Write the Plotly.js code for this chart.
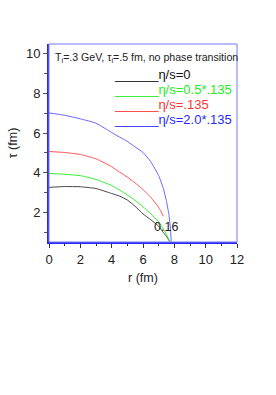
<!DOCTYPE html>
<html>
<head>
<meta charset="utf-8">
<script src="https://cdn.plot.ly/plotly-3.0.1.min.js"></script>
<style>html,body{margin:0;padding:0;background:#fff;}#chart{width:276px;height:395px;}</style>
</head>
<body>
<div id="chart"></div>
<script>
// Series data (r in fm, tau in fm)
const seriesNames = ["η/s=0", "η/s=0.5*.135", "η/s=.135", "η/s=2.0*.135"];
const rBlack   = [0, 1, 2, 3, 4, 4.5, 5, 5.5, 6, 6.5, 7, 7.3, 7.5, 7.72];
const tauBlack = [3.26, 3.30, 3.29, 3.20, 2.95, 2.82, 2.62, 2.30, 1.92, 1.62, 1.30, 0.98, 0.78, 0.5];
const rGreen   = [0, 1, 2, 3, 4, 4.5, 5, 5.5, 6, 6.5, 7, 7.3, 7.5, 7.72];
const tauGreen = [3.96, 3.92, 3.85, 3.66, 3.35, 3.12, 2.88, 2.60, 2.28, 1.92, 1.52, 1.15, 0.88, 0.5];
const rRed     = [0, 1, 2, 3, 4, 4.5, 5, 5.5, 6, 6.5, 7, 7.3];
const tauRed   = [5.07, 5.02, 4.92, 4.70, 4.30, 4.03, 3.78, 3.48, 3.15, 2.75, 2.25, 1.80];
const rBlue    = [0, 1, 2, 3, 4, 4.5, 5, 5.5, 6, 6.5, 7, 7.3, 7.5, 7.65, 7.75, 7.8];
const tauBlue  = [7.02, 6.90, 6.72, 6.50, 6.03, 5.80, 5.58, 5.30, 5.02, 4.55, 3.85, 3.20, 2.55, 1.90, 1.20, 0.5];
const lineColors = ["#444444", "#33ee33", "#ff5555", "#6666ff"];
const textColors = ["#111111", "#22ee22", "#ff3333", "#2a2aff"];
const xTicks = [0, 2, 4, 6, 8, 10, 12];
const yTicks = [2, 4, 6, 8, 10];
const infoText = "T<sub>i</sub>=.3 GeV, τ<sub>i</sub>=.5 fm, no phase transition";
const pointLabel = "0.16";
const pointLabelR = 7.45, pointLabelTau = 1.28;

const xs = [rBlack, rGreen, rRed, rBlue];
const ys = [tauBlack, tauGreen, tauRed, tauBlue];
const traces = xs.map((x, i) => ({
  x: x, y: ys[i], type: "scatter", mode: "lines", name: seriesNames[i],
  line: {color: lineColors[i], width: 1, shape: "spline", smoothing: 0.5},
  showlegend: false, hoverinfo: "skip"
}));

const font = "Liberation Sans, Arial, sans-serif";
const annotations = [
  {xref: "paper", yref: "paper", x: 0.02, y: 1 - (58 - 44) / 198, xanchor: "left", yanchor: "middle",
   text: infoText, showarrow: false, font: {family: font, size: 10.6, color: "#222"}},
  {xref: "x", yref: "y", x: pointLabelR, y: pointLabelTau, xanchor: "center", yanchor: "middle",
   text: pointLabel, showarrow: false,
   font: {family: font, size: 12.5, color: "#222"}}
];
const legendY0 = 74.5, legendStep = 15; // pixel positions for legend rows
seriesNames.forEach((n, i) => {
  annotations.push({
    xref: "paper", yref: "paper", x: (112 - 49) / 188, y: 1 - ((legendY0 + i * legendStep) - 44) / 198,
    xanchor: "left", yanchor: "middle", showarrow: false,
    text: "______" + n, font: {family: font, size: 13, color: textColors[i]}
  });
});

const layout = {
  width: 276, height: 395,
  margin: {l: 49, r: 39, t: 44, b: 153, pad: 0},
  paper_bgcolor: "#fff", plot_bgcolor: "#fff",
  showlegend: false,
  font: {family: font, color: "#222"},
  xaxis: {
    range: [0, 12], tickvals: xTicks, ticktext: xTicks.map(String),
    ticks: "outside", ticklen: 4, tickwidth: 1, tickcolor: "#333",
    minor: {dtick: 1, tick0: 0, ticks: "outside", ticklen: 2, tickcolor: "#333", showgrid: false},
    showgrid: false, zeroline: false,
    showline: true, linecolor: "#2a2aee", linewidth: 2,
    tickfont: {family: font, size: 13, color: "#222"},
    title: {text: "r (fm)", font: {family: font, size: 12.5, color: "#222"}, standoff: 8}
  },
  yaxis: {
    range: [0.5, 10.5], tickvals: yTicks, ticktext: yTicks.map(String),
    ticks: "outside", ticklen: 4, tickwidth: 1, tickcolor: "#555",
    minor: {dtick: 1, tick0: 0, ticks: "outside", ticklen: 3, tickcolor: "#555", showgrid: false},
    showgrid: false, zeroline: false,
    showline: true, linecolor: "#2a2aee", linewidth: 2,
    tickfont: {family: font, size: 13, color: "#222"},
    title: {text: "τ (fm)", font: {family: font, size: 12.5, color: "#222"}, standoff: 6}
  },
  shapes: [{type: "rect", xref: "paper", yref: "paper", x0: 0, x1: 1, y0: 0, y1: 1,
            line: {color: "#7777ff", width: 1}, layer: "above"}],
  annotations: annotations
};
Plotly.newPlot("chart", traces, layout, {staticPlot: true, displayModeBar: false});
</script>
</body>
</html>
